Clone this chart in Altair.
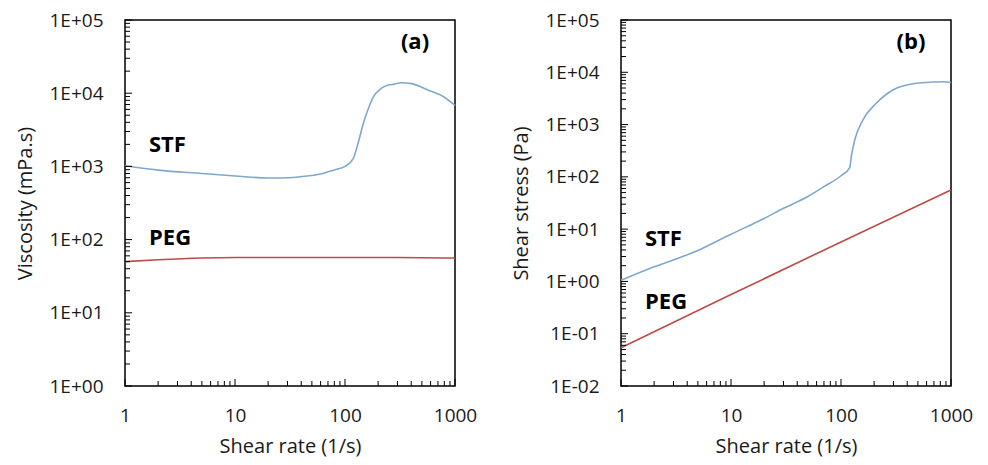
import altair as alt
import pandas as pd

# ---- data ----
# (a) viscosity vs shear rate
rate_stf_a = [1, 2, 5, 10, 20, 30, 40, 60, 80, 100, 119, 130, 147, 160, 181, 210, 225, 248, 280, 328, 400, 573, 800, 1000]
visc_stf = [1020, 890, 800, 740, 694, 700, 725, 787, 895, 1000, 1290, 1950, 3880, 5700, 8930, 11400, 12200, 12900, 13300, 13900, 13500, 11000, 8800, 6800]
rate_peg_a = [1, 2, 5, 10, 30, 100, 300, 1000]
visc_peg = [50, 53, 56, 57, 57, 57, 57, 56]

# (b) shear stress vs shear rate
rate_stf_b = [1, 2, 5, 10, 20, 30, 50, 70, 100, 120, 124, 133, 158, 209, 296, 484, 700, 846, 1000]
stress_stf = [1.05, 1.9, 3.9, 8.0, 16, 25, 42, 65, 105, 150, 243, 500, 1220, 2550, 4590, 6170, 6500, 6600, 6400]
rate_peg_b = [1, 10, 100, 1000]
stress_peg = [0.054, 0.56, 5.7, 56]

series_names = ["STF", "PEG"]
panel_tags = ["(a)", "(b)"]

x_major = [1, 10, 100, 1000]
x_minor = [m * d for d in [1, 10, 100] for m in range(2, 10)]
ya_major = [1, 10, 100, 1000, 10000, 100000]
yb_major = [0.01, 0.1, 1, 10, 100, 1000, 10000, 100000]

FONT = "Open Sans"
W, H = 330, 366
BLUE = "#7FA8CE"
RED = "#BE4B48"


def panel(rate_s, val_s, rate_p, val_p, y_major, y_title, tag, stf_pos, peg_pos):
    y_minor = [m * d for d in y_major[:-1] for m in range(2, 10)]
    xs = alt.Scale(type="log", domain=[1, 1000], nice=False)
    ys = alt.Scale(type="log", domain=[y_major[0], y_major[-1]], nice=False)
    xa = alt.Axis(values=x_major, format="d", title="Shear rate (1/s)",
                  labelPadding=20, titlePadding=11, labelFlush=False)
    ya = alt.Axis(values=y_major, title=y_title, labelPadding=22, titlePadding=13, labelFlush=False,
                  labelExpr="'1E' + (datum.value >= 1 ? '+' : '-') + format(abs(round(log(datum.value) / LN10)), '02d')")

    df = pd.concat([
        pd.DataFrame({"rate": rate_s, "val": val_s, "series": series_names[0]}),
        pd.DataFrame({"rate": rate_p, "val": val_p, "series": series_names[1]}),
    ])
    lines = alt.Chart(df).mark_line(strokeWidth=1.6, interpolate="monotone").encode(
        x=alt.X("rate:Q", scale=xs, axis=xa),
        y=alt.Y("val:Q", scale=ys, axis=ya),
        color=alt.Color("series:N", scale=alt.Scale(domain=series_names, range=[BLUE, RED]), legend=None),
        detail="series:N",
    )

    def xticks(vals, ln):
        return alt.Chart(pd.DataFrame({"rate": vals})).mark_rule(color="black", strokeWidth=1).encode(
            x=alt.X("rate:Q", scale=xs, axis=xa), y=alt.value(H), y2=alt.value(H - ln))

    def yticks(vals, ln):
        return alt.Chart(pd.DataFrame({"val": vals})).mark_rule(color="black", strokeWidth=1).encode(
            y=alt.Y("val:Q", scale=ys, axis=ya), x=alt.value(0), x2=alt.value(ln))

    def label(txt, pos, size, align="left"):
        return alt.Chart(pd.DataFrame({"t": [txt]})).mark_text(
            font=FONT, fontWeight="bold", fontSize=size, align=align, baseline="middle", color="black"
        ).encode(text="t:N", x=alt.value(pos[0]), y=alt.value(pos[1]))

    return alt.layer(
        lines,
        xticks(x_major, 7), xticks(x_minor, 5),
        yticks(y_major, 7), yticks(y_minor, 5),
        label(series_names[0], stf_pos, 22),
        label(series_names[1], peg_pos, 22),
        label(tag, (290, 22), 22, "center"),
    ).properties(width=W, height=H)


left = panel(rate_stf_a, visc_stf, rate_peg_a, visc_peg, ya_major, "Viscosity (mPa.s)", panel_tags[0], (24, 125), (24, 218))
right = panel(rate_stf_b, stress_stf, rate_peg_b, stress_peg, yb_major, "Shear stress (Pa)", panel_tags[1], (24, 219), (24, 282))

chart = alt.hconcat(left, right, spacing=33).properties(
    padding={"left": 7, "top": 2, "right": 5, "bottom": 0}
).configure_view(
    stroke="black", strokeWidth=1.5
).configure_axis(
    labelFont=FONT, labelFontSize=19, labelColor="#1a1a1a",
    titleFont=FONT, titleFontSize=20, titleFontWeight="normal", titleColor="#1a1a1a",
    grid=False, ticks=False, domain=False,
)

chart.save("out.html", embed_options={"renderer": "svg", "actions": False})
